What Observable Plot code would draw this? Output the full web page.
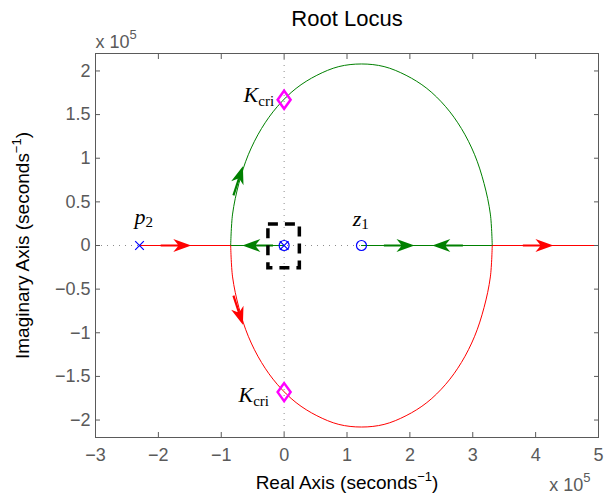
<!DOCTYPE html>
<html><head><meta charset="utf-8">
<script src="https://cdn.jsdelivr.net/npm/d3@7"></script>
<script src="https://cdn.jsdelivr.net/npm/@observablehq/plot@0.6"></script>
<style>body{margin:0;background:#fff}</style>
</head><body><div id="chart"></div>
<script>
// ---- data (units of 1e5) ----
const xTicks = [-3, -2, -1, 0, 1, 2, 3, 4, 5];
const yTicks = [-2, -1.5, -1, -0.5, 0, 0.5, 1, 1.5, 2];
const xDomain = [-3, 5];
const yDomain = [-2.2, 2.2];

const poleRe = [-2.3, 0];
const poleIm = [0, 0];
const zeroRe = [0, 1.23];
const zeroIm = [0, 0];

// complex branches
const upperArcRe = [-0.85, -0.82, -0.72, -0.57, -0.36, -0.11, 0.19, 0.52, 0.87, 1.23, 1.59, 1.94, 2.27, 2.57, 2.82, 3.03, 3.18, 3.28, 3.31];
const upperArcIm = [0, 0.36, 0.71, 1.04, 1.34, 1.59, 1.80, 1.95, 2.05, 2.08, 2.05, 1.95, 1.80, 1.59, 1.34, 1.04, 0.71, 0.36, 0];
const lowerArcRe = [-0.85, -0.82, -0.72, -0.57, -0.36, -0.11, 0.19, 0.52, 0.87, 1.23, 1.59, 1.94, 2.27, 2.57, 2.82, 3.03, 3.18, 3.28, 3.31];
const lowerArcIm = [0, -0.36, -0.71, -1.04, -1.34, -1.59, -1.80, -1.95, -2.05, -2.08, -2.05, -1.95, -1.80, -1.59, -1.34, -1.04, -0.71, -0.36, 0];

// real-axis segments
const redLeftRe = [-2.3, -0.85];
const greenLeftRe = [0, -0.85];
const greenRightRe = [3.31, 1.23];
const redRightRe = [3.31, 5];

// direction arrows
const arrowRe = [-1.62, -0.52, -0.70, -0.70, 1.93, 2.50, 4.14];
const arrowIm = [0, 0, 0.81, -0.81, 0, 0, 0];
const arrowAngle = [0, 180, -72, 72, 0, 180, 0];
const arrowBranch = ["red", "green", "green", "red", "green", "green", "red"];

// critical gain points and labels
const kcriRe = [0, 0];
const kcriIm = [1.67, -1.68];
const kcriLabelRe = [-0.16, -0.24];
const kcriLabelIm = [1.64, -1.79];
const poleLabelRe = [-2.38];
const poleLabelIm = [0.25];
const zeroLabelRe = [1.09];
const zeroLabelIm = [0.22];

// zoom box around origin
const boxRe = [-0.25, 0.25];
const boxIm = [-0.26, 0.24];

// ---- styles ----
const GREEN = "#008000", RED = "#ff0000", BLUE = "#0000ff", MAGENTA = "#ff00ff";
const AX = "#5a5a5a";
const branchColor = {red: RED, green: GREEN};
const SANS = "'Liberation Sans', Arial, Helvetica, sans-serif";
const SERIF = "'Liberation Serif', 'Times New Roman', serif";
const fmt = d => d < 0 ? "\u2212" + (-d) : String(d);

const pts = (xs, ys) => xs.map((x, i) => ({x, y: ys[i]}));
const onAxis = xs => xs.map(x => ({x, y: 0}));

const arrowSymbol = {
  draw(ctx, size) {
    const r = Math.sqrt(size / Math.PI);
    ctx.moveTo(r, 0);
    ctx.lineTo(-r, -0.72 * r);
    ctx.lineTo(-0.4 * r, 0);
    ctx.lineTo(-r, 0.72 * r);
    ctx.closePath();
    ctx.moveTo(-0.4 * r, -1.1);
    ctx.lineTo(-2.4 * r, -1.1);
    ctx.lineTo(-2.4 * r, 1.1);
    ctx.lineTo(-0.4 * r, 1.1);
    ctx.closePath();
  }
};
const diamondSymbol = {
  draw(ctx, size) {
    const r = Math.sqrt(size / Math.PI);
    ctx.moveTo(0, -r);
    ctx.lineTo(0.72 * r, 0);
    ctx.lineTo(0, r);
    ctx.lineTo(-0.72 * r, 0);
    ctx.closePath();
  }
};

const arrows = arrowRe.map((x, i) => ({x, y: arrowIm[i], angle: arrowAngle[i], branch: arrowBranch[i]}));
const box = [{x1: boxRe[0], x2: boxRe[1], y1: boxIm[0], y2: boxIm[1]}];

const plot = Plot.plot({
  width: 604,
  height: 494,
  marginLeft: 95,
  marginRight: 6,
  marginTop: 53,
  marginBottom: 57,
  style: {fontFamily: SANS, background: "#fff"},
  x: {domain: xDomain},
  y: {domain: yDomain},
  marks: [
    Plot.ruleX([0], {stroke: "#8c8c8c", strokeDasharray: "1,5"}),
    Plot.ruleY([0], {stroke: "#8c8c8c", strokeDasharray: "1,5"}),
    Plot.line(onAxis(redLeftRe), {x: "x", y: "y", stroke: RED, strokeWidth: 1}),
    Plot.line(onAxis(redRightRe), {x: "x", y: "y", stroke: RED, strokeWidth: 1}),
    Plot.line(onAxis(greenLeftRe), {x: "x", y: "y", stroke: GREEN, strokeWidth: 1}),
    Plot.line(onAxis(greenRightRe), {x: "x", y: "y", stroke: GREEN, strokeWidth: 1}),
    Plot.line(pts(upperArcRe, upperArcIm), {x: "x", y: "y", stroke: GREEN, strokeWidth: 1, curve: "catmull-rom"}),
    Plot.line(pts(lowerArcRe, lowerArcIm), {x: "x", y: "y", stroke: RED, strokeWidth: 1, curve: "catmull-rom"}),
    Plot.dot(arrows, {x: "x", y: "y", r: 9, symbol: arrowSymbol, rotate: "angle", fill: d => branchColor[d.branch], stroke: "none"}),
    Plot.rect(box, {x1: "x1", x2: "x2", y1: "y1", y2: "y2", fill: "none", stroke: "black", strokeWidth: 3.5, strokeDasharray: "10,7"}),
    Plot.dot(pts(zeroRe, zeroIm), {x: "x", y: "y", r: 5, symbol: "circle", stroke: BLUE, strokeWidth: 1.2, fill: "none"}),
    Plot.dot(pts(poleRe, poleIm), {x: "x", y: "y", r: 4, symbol: "times", stroke: BLUE, strokeWidth: 1.2}),
    Plot.dot(pts(kcriRe, kcriIm), {x: "x", y: "y", r: 9, symbol: diamondSymbol, stroke: MAGENTA, strokeWidth: 2.5, fill: "none"}),
    Plot.text(pts(kcriLabelRe, kcriLabelIm), {x: "x", y: "y", text: () => "K_cri", textAnchor: "end", lineAnchor: "bottom", fontFamily: SERIF, fontSize: 22, fill: "black"}),
    Plot.text(pts(poleLabelRe, poleLabelIm), {x: "x", y: "y", text: () => "p_2", textAnchor: "start", lineAnchor: "bottom", fontFamily: SERIF, fontSize: 22, fill: "black"}),
    Plot.text(pts(zeroLabelRe, zeroLabelIm), {x: "x", y: "y", text: () => "z_1", textAnchor: "start", lineAnchor: "bottom", fontFamily: SERIF, fontSize: 22, fill: "black"}),
    Plot.frame({stroke: AX, strokeWidth: 1}),
    Plot.axisX({anchor: "bottom", ticks: xTicks, tickSize: -5, tickFormat: () => "", stroke: AX, label: null}),
    Plot.axisX({anchor: "top", ticks: xTicks, tickSize: -5, tickFormat: () => "", stroke: AX, label: null}),
    Plot.axisY({anchor: "left", ticks: yTicks, tickSize: -5, tickFormat: () => "", stroke: AX, label: null}),
    Plot.axisY({anchor: "right", ticks: yTicks, tickSize: -5, tickFormat: () => "", stroke: AX, label: null}),
    Plot.axisX({anchor: "bottom", ticks: xTicks, tickSize: 0, tickPadding: 11, tickFormat: fmt, fill: AX, fontSize: 18, label: null}),
    Plot.axisY({anchor: "left", ticks: yTicks, tickSize: 0, tickPadding: 5, tickFormat: fmt, fill: AX, fontSize: 18, label: null}),
    Plot.text(["Root Locus"], {text: d => d, frameAnchor: "top", lineAnchor: "middle", dy: -35, fontSize: 22, fill: "black"}),
    Plot.text(["Real Axis (seconds^-1)"], {text: d => d, frameAnchor: "bottom", textAnchor: "middle", lineAnchor: "middle", dy: 45, fontSize: 19, fill: "black"}),
    Plot.text(["Imaginary Axis (seconds^-1)"], {text: d => d, frameAnchor: "left", textAnchor: "middle", lineAnchor: "middle", dx: -73, rotate: -90, fontSize: 19, fill: "black"}),
    Plot.text(["x 10^5"], {text: d => d, frameAnchor: "top-left", dy: -6, textAnchor: "start", lineAnchor: "bottom", fontSize: 18, fill: AX}),
    Plot.text(["x 10^5"], {text: d => d, frameAnchor: "bottom-right", dx: -8, dy: 53, textAnchor: "end", lineAnchor: "bottom", fontSize: 18, fill: AX})
  ]
});

document.getElementById("chart").appendChild(plot);

// rich text (sub/superscripts) for labels
const rich = {
  "Real Axis (seconds^-1)": [{t: "Real Axis (seconds"}, {t: "\u22121", size: 13, dy: -8}, {t: ")", dy: 8}],
  "Imaginary Axis (seconds^-1)": [{t: "Imaginary Axis (seconds"}, {t: "\u22121", size: 13, dy: -8}, {t: ")", dy: 8}],
  "x 10^5": [{t: "x 10"}, {t: "5", size: 13, dy: -9}],
  "K_cri": [{t: "K", italic: true}, {t: "cri", size: 15, dy: 4}],
  "p_2": [{t: "p", italic: true}, {t: "2", size: 15, dy: 3}],
  "z_1": [{t: "z", italic: true}, {t: "1", size: 15, dy: 3}]
};
d3.select(plot).selectAll("text").each(function () {
  const parts = rich[this.textContent];
  if (!parts) return;
  const el = d3.select(this);
  el.text(null);
  for (const p of parts) {
    const s = el.append("tspan").text(p.t);
    if (p.size) s.attr("font-size", p.size);
    if (p.dy) s.attr("dy", p.dy);
    if (p.italic) s.attr("font-style", "italic");
  }
});
</script>
</body></html>
